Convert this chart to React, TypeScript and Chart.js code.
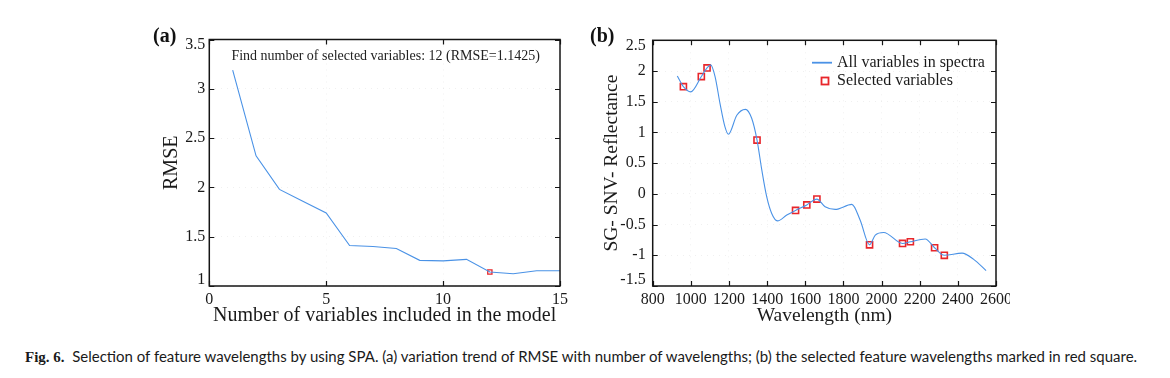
import React, { useEffect, useRef, useLayoutEffect } from "react";
import { Chart, registerables } from "chart.js";

Chart.register(...registerables);

// ---------- Data: panel (a) ----------
const variableCounts = [1, 2, 3, 4, 5, 6, 7, 8, 9, 10, 11, 12, 13, 14, 15];
const rmseValues = [3.19, 2.32, 1.98, 1.86, 1.74, 1.41, 1.40, 1.38, 1.26, 1.255, 1.27, 1.1425, 1.125, 1.155, 1.155];
const chosenCount = [12];
const chosenRmse = [1.1425];
const xTicksA = [0, 5, 10, 15];
const yTicksA = [1, 1.5, 2, 2.5, 3, 3.5];
const annotationA = "Find number of selected variables: 12 (RMSE=1.1425)";

// ---------- Data: panel (b) ----------
const spectrumWl = [929, 961, 999, 1055, 1085, 1104, 1127, 1153, 1179, 1197, 1241, 1286, 1319, 1347, 1372, 1398, 1424, 1454, 1503, 1549, 1608, 1661, 1704, 1757, 1844, 1888, 1937, 1967, 2011, 2110, 2151, 2229, 2278, 2329, 2422, 2483, 2548];
const spectrumVal = [1.92, 1.745, 1.66, 1.91, 2.05, 2.1, 1.91, 1.47, 1.09, 0.97, 1.28, 1.376, 1.23, 0.876, 0.39, -0.05, -0.32, -0.44, -0.345, -0.27, -0.18, -0.085, -0.21, -0.253, -0.171, -0.43, -0.83, -0.671, -0.628, -0.807, -0.78, -0.734, -0.877, -1.0, -0.965, -1.067, -1.25];
const selectedWl = [961, 1055, 1085, 1347, 1549, 1608, 1661, 1937, 2110, 2151, 2278, 2329];
const selectedVal = [1.745, 1.91, 2.05, 0.876, -0.27, -0.18, -0.085, -0.83, -0.807, -0.78, -0.877, -1.0];
const xTicksB = [800, 1000, 1200, 1400, 1600, 1800, 2000, 2200, 2400, 2600];
const yTicksB = [-1.5, -1, -0.5, 0, 0.5, 1, 1.5, 2, 2.5];

const captionBold = "Fig. 6.";
const captionText =
  "Selection of feature wavelengths by using SPA. (a) variation trend of RMSE with number of wavelengths; (b) the selected feature wavelengths marked in red square.";

const SERIF = "'Liberation Serif', 'Times New Roman', serif";
const LINE_BLUE = "#4a92e6";
const SQUARE_RED = "#e8262b";

// ---------- Plugins ----------
const framePlugin = {
  id: "frame",
  afterDatasetsDraw(chart: any) {
    const { ctx, chartArea: a, scales } = chart;
    const tl = 5;
    ctx.save();
    ctx.strokeStyle = "#151515";
    ctx.lineWidth = 1.2;
    ctx.beginPath();
    scales.x.ticks.forEach((t: any) => {
      const px = Math.round(scales.x.getPixelForValue(t.value)) + 0.5;
      ctx.moveTo(px, a.bottom);
      ctx.lineTo(px, a.bottom - tl);
      ctx.moveTo(px, a.top);
      ctx.lineTo(px, a.top + tl);
    });
    scales.y.ticks.forEach((t: any) => {
      const py = Math.round(scales.y.getPixelForValue(t.value)) + 0.5;
      ctx.moveTo(a.left, py);
      ctx.lineTo(a.left + tl, py);
      ctx.moveTo(a.right, py);
      ctx.lineTo(a.right - tl, py);
    });
    ctx.stroke();
    ctx.lineWidth = 1.5;
    ctx.strokeRect(a.left, a.top, a.right - a.left, a.bottom - a.top);

    // y tick labels (extreme labels nudged inward, as in the original figure)
    const pad = chart.options.plugins.frame.yLabelPad;
    ctx.font = `16px ${SERIF}`;
    ctx.fillStyle = "#1a1a1a";
    ctx.textAlign = "right";
    ctx.textBaseline = "middle";
    scales.y.ticks.forEach((t: any) => {
      let py = scales.y.getPixelForValue(t.value);
      py = Math.max(a.top + 5.5, Math.min(a.bottom - 6.5, py));
      ctx.fillText(String(t.value), a.left - pad, py);
    });
    ctx.restore();
  },
};

const annotationPlugin = {
  id: "annotationA",
  afterDatasetsDraw(chart: any) {
    const { ctx, chartArea: a } = chart;
    ctx.save();
    ctx.font = `14px ${SERIF}`;
    ctx.fillStyle = "#222";
    ctx.textAlign = "center";
    ctx.textBaseline = "middle";
    ctx.fillText(annotationA, (a.left + a.right) / 2 + 1, a.top + 17);
    ctx.restore();
  },
};

const legendPluginB = {
  id: "legendB",
  afterDatasetsDraw(chart: any) {
    const { ctx, chartArea: a } = chart;
    const ds = chart.data.datasets;
    const textX = a.right - 159;
    const row1 = a.top + 22.4;
    const row2 = a.top + 40.7;
    ctx.save();
    ctx.font = `16px ${SERIF}`;
    ctx.fillStyle = "#1a1a1a";
    ctx.textAlign = "left";
    ctx.textBaseline = "middle";
    ctx.strokeStyle = ds[0].borderColor;
    ctx.lineWidth = 1.8;
    ctx.beginPath();
    ctx.moveTo(a.right - 184, row1);
    ctx.lineTo(a.right - 164, row1);
    ctx.stroke();
    ctx.fillText(ds[0].label, textX, row1);
    ctx.strokeStyle = ds[1].borderColor;
    ctx.lineWidth = 1.8;
    ctx.strokeRect(a.right - 174.5, row2 - 3.5, 7, 7);
    ctx.fillText(ds[1].label, textX, row2);
    ctx.restore();
  },
};

// ---------- Helpers ----------
function tickSetter(values: number[]) {
  return (scale: any) => {
    scale.ticks = values.map((v) => ({ value: v }));
  };
}

function fixedSize(prop: "width" | "height", size: number) {
  return (scale: any) => {
    scale[prop] = size;
    scale.paddingLeft = 0;
    scale.paddingRight = 0;
    scale.paddingTop = 0;
    scale.paddingBottom = 0;
  };
}

const gridStyle = {
  color: "rgba(0,0,0,0.06)",
  lineWidth: 1,
  drawTicks: false,
};

function ChartCanvas({ config, left, top, width, height }: any) {
  const ref = useRef<HTMLCanvasElement>(null);
  useEffect(() => {
    const chart = new Chart(ref.current as HTMLCanvasElement, config);
    return () => chart.destroy();
  }, []);
  return (
    <div style={{ position: "absolute", left, top, width, height }}>
      <canvas ref={ref} width={width} height={height} style={{ width, height, display: "block" }} />
    </div>
  );
}

// ---------- Configs ----------
const configA: any = {
  type: "line",
  data: {
    datasets: [
      {
        label: "RMSE",
        data: variableCounts.map((x, i) => ({ x, y: rmseValues[i] })),
        borderColor: LINE_BLUE,
        borderWidth: 1.1,
        pointRadius: 0,
        tension: 0,
        fill: false,
      },
      {
        label: "Selected",
        data: chosenCount.map((x, i) => ({ x, y: chosenRmse[i] })),
        showLine: false,
        pointStyle: "rect",
        pointRadius: 3,
        borderColor: SQUARE_RED,
        backgroundColor: "rgba(255,255,255,0)",
        pointBorderWidth: 1.3,
      },
    ],
  },
  options: {
    responsive: false,
    animation: false,
    devicePixelRatio: 1,
    layout: { padding: { top: 29.5, right: 20, left: 0, bottom: 0 } },
    plugins: { legend: { display: false }, tooltip: { enabled: false }, frame: { yLabelPad: 4 } },
    scales: {
      x: {
        type: "linear",
        min: 0,
        max: 15,
        afterBuildTicks: tickSetter(xTicksA),
        afterFit: fixedSize("height", 54),
        grid: gridStyle,
        border: { display: false, dash: [1, 5] },
        ticks: {
          padding: 4,
          color: "#1a1a1a",
          font: { family: SERIF, size: 16 },
          callback: (v: any) => String(v),
          maxRotation: 0,
        },
        title: {
          display: true,
          text: "Number of variables included in the model",
          color: "#1a1a1a",
          font: { family: SERIF, size: 20 },
          padding: { top: 0, bottom: 12 },
        },
      },
      y: {
        type: "linear",
        min: 1,
        max: 3.5,
        afterBuildTicks: tickSetter(yTicksA),
        afterFit: fixedSize("width", 69.3),
        grid: gridStyle,
        border: { display: false, dash: [1, 5] },
        ticks: { display: false },
        title: {
          display: true,
          text: "RMSE",
          color: "#1a1a1a",
          font: { family: SERIF, size: 20 },
          padding: { top: 19.7, bottom: 0 },
        },
      },
    },
  },
  plugins: [framePlugin, annotationPlugin],
};

const configB: any = {
  type: "line",
  data: {
    datasets: [
      {
        label: "All variables in spectra",
        data: spectrumWl.map((x, i) => ({ x, y: spectrumVal[i] })),
        borderColor: LINE_BLUE,
        borderWidth: 1.1,
        pointRadius: 0,
        cubicInterpolationMode: "monotone",
        fill: false,
      },
      {
        label: "Selected variables",
        data: selectedWl.map((x, i) => ({ x, y: selectedVal[i] })),
        showLine: false,
        pointStyle: "rect",
        pointRadius: 4.3,
        borderColor: SQUARE_RED,
        backgroundColor: "rgba(255,255,255,0)",
        pointBorderWidth: 1.6,
      },
    ],
  },
  options: {
    responsive: false,
    animation: false,
    devicePixelRatio: 1,
    layout: { padding: { top: 30.3, right: 14, left: 0, bottom: 0 } },
    plugins: { legend: { display: false }, tooltip: { enabled: false }, frame: { yLabelPad: 7 } },
    scales: {
      x: {
        type: "linear",
        min: 800,
        max: 2600,
        afterBuildTicks: tickSetter(xTicksB),
        afterFit: fixedSize("height", 54),
        grid: gridStyle,
        border: { display: false, dash: [1, 5] },
        ticks: {
          padding: 4,
          color: "#1a1a1a",
          font: { family: SERIF, size: 16 },
          callback: (v: any) => String(v),
          maxRotation: 0,
          autoSkip: false,
        },
        title: {
          display: true,
          text: "Wavelength (nm)",
          color: "#1a1a1a",
          font: { family: SERIF, size: 19.5 },
          padding: { top: 0, bottom: 12.5 },
        },
      },
      y: {
        type: "linear",
        min: -1.5,
        max: 2.5,
        afterBuildTicks: tickSetter(yTicksB),
        afterFit: fixedSize("width", 67.7),
        grid: gridStyle,
        border: { display: false, dash: [1, 5] },
        ticks: { display: false },
        title: {
          display: true,
          text: "SG- SNV- Reflectance",
          color: "#1a1a1a",
          font: { family: SERIF, size: 19.5 },
          padding: { top: 15, bottom: 0 },
        },
      },
    },
  },
  plugins: [framePlugin, legendPluginB],
};

function Caption() {
  const ref = useRef<HTMLDivElement>(null);
  useLayoutEffect(() => {
    const el = ref.current;
    if (!el) return;
    const target = 1113;
    const w = el.scrollWidth;
    if (w > 0) {
      const base = 13;
      el.style.fontSize = `${(base * target) / w}px`;
    }
  }, []);
  return (
    <div
      ref={ref}
      style={{
        position: "absolute",
        left: 25,
        top: 346,
        whiteSpace: "nowrap",
        fontFamily: "Lato, 'Open Sans', sans-serif",
        fontSize: 13,
        color: "#1a1a1a",
        lineHeight: "20px",
        display: "inline-block",
      }}
    >
      <span style={{ fontWeight: 700, fontFamily: SERIF }}>{captionBold}</span>
      {"\u00a0 "}
      {captionText}
    </div>
  );
}

export default function App() {
  return (
    <div
      style={{
        position: "absolute",
        left: 0,
        top: 0,
        width: 1170,
        height: 378,
        background: "#fff",
        overflow: "hidden",
      }}
    >
      <ChartCanvas config={configA} left={140} top={10} width={440} height={330} />
      <ChartCanvas config={configB} left={585} top={10} width={425} height={330} />
      <div
        style={{
          position: "absolute",
          left: 153,
          top: 22,
          fontFamily: SERIF,
          fontWeight: 700,
          fontSize: 20,
          lineHeight: "26px",
          color: "#111",
        }}
      >
        (a)
      </div>
      <div
        style={{
          position: "absolute",
          left: 590,
          top: 22,
          fontFamily: SERIF,
          fontWeight: 700,
          fontSize: 20,
          lineHeight: "26px",
          color: "#111",
        }}
      >
        (b)
      </div>
      <Caption />
    </div>
  );
}
